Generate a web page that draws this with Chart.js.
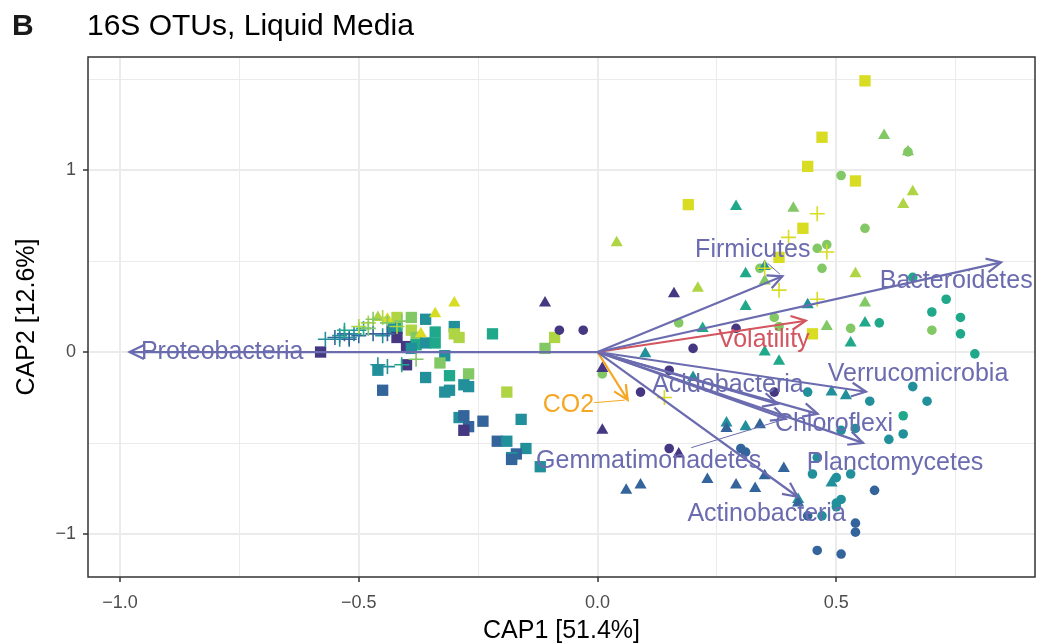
<!DOCTYPE html>
<html>
<head>
<meta charset="utf-8">
<script src="https://cdn.jsdelivr.net/npm/chart.js@4.4.0/dist/chart.umd.min.js"></script>
<style>
  html, body { margin: 0; padding: 0; background: #fff; }
  #wrap { width: 1045px; height: 644px; }
</style>
</head>
<body>
<div id="wrap"><canvas id="myChart" width="1045" height="644"></canvas></div>
<script>
// sample scores (CAP1, CAP2), one set of arrays per marker shape; group = colour level 1..7
const circleX = [0.51, 0.65, 0.56, 0.46, 0.48, 0.47, 0.34, 0.17, 0.37, 0.38, 0.70, 0.53, 0.01,
  0.66, 0.73, 0.70, 0.76, 0.76, 0.79, 0.59, 0.64,
  0.66, 0.69, 0.57, 0.44, 0.64, 0.61, 0.54, 0.51, 0.46, 0.45, 0.50, 0.53, 0.51, 0.50, 0.50, 0.47,
  0.58, 0.44, 0.54, 0.54, 0.46, 0.51, 0.30, 0.31,
  0.29, 0.20, 0.15, 0.09, 0.37, 0.15, -0.08, -0.03];
const circleY = [0.97, 1.10, 0.68, 0.57, 0.59, 0.46, 0.46, 0.16, 0.19, 0.14, 0.12, 0.13, -0.12,
  0.41, 0.29, 0.22, 0.19, 0.10, -0.01, 0.16, -0.35,
  -0.19, -0.27, -0.27, -0.22, -0.45, -0.48, -0.42, -0.43, -0.58, -0.67, -0.69, -0.67, -0.81, -0.83, -0.85, -0.90,
  -0.76, -0.90, -0.94, -0.99, -1.09, -1.11, -0.53, -0.55,
  0.13, 0.02, -0.10, -0.22, -0.22, -0.53, 0.12, 0.12];
const circleGroup = [5, 5, 5, 5, 5, 5, 5, 5, 5, 5, 5, 5, 5,
  4, 4, 4, 4, 4, 4, 4, 4,
  3, 3, 3, 3, 3, 3, 3, 3, 3, 3, 3, 3, 3, 3, 3, 3,
  2, 2, 2, 2, 2, 2, 2, 2,
  1, 1, 1, 1, 1, 1, 1, 1];

const triX = [0.60, 0.65, 0.66, 0.64, 0.29, 0.41, 0.04, 0.54, 0.56, 0.56, 0.48, 0.53, 0.44, 0.38, 0.35,
  0.31, 0.35, 0.35, 0.16, 0.21, 0.31, 0.22, 0.10, 0.20, 0.01, 0.27, 0.27, 0.31, 0.34, 0.49, 0.52,
  0.39, 0.49, 0.42, 0.42, 0.17, 0.23, 0.29, 0.33, 0.35, 0.06, 0.09, -0.11, -0.30, -0.34, -0.44, -0.37, 0.01, -0.46];
const triY = [1.19, 1.10, 0.88, 0.81, 0.80, 0.79, 0.60, 0.43, 0.27, 0.16, 0.14, 0.05, 0.26, -0.05, 0.00,
  0.43, 0.39, 0.47, 0.32, 0.35, 0.25, 0.13, -0.01, -0.14, -0.43, -0.39, -0.42, -0.41, -0.40, -0.22, -0.24,
  -0.64, -0.72, -0.81, -0.83, -0.56, -0.70, -0.73, -0.75, -0.68, -0.76, -0.73, 0.27, 0.27, 0.21, 0.18, 0.10, -0.09, 0.19];
const triGroup = [5, 5, 6, 6, 4, 5, 6, 6, 5, 4, 5, 4, 3, 4, 4,
  4, 5, 3, 1, 6, 4, 4, 3, 3, 1, 3, 2, 3, 2, 3, 3,
  2, 3, 3, 2, 1, 2, 2, 2, 2, 2, 2, 1, 7, 7, 7, 7, 1, 6];

const squareX = [0.56, 0.47, 0.44, 0.54, 0.19, 0.43, 0.38, 0.45,
  -0.58, -0.42, -0.39, -0.36, -0.42, -0.43, -0.39, -0.34, -0.30, -0.30, -0.29, -0.42, -0.38, -0.40, -0.38,
  -0.39, -0.36, -0.34, -0.32, -0.33, -0.36, -0.46, -0.40, -0.31, -0.27, -0.28, -0.31, -0.27, -0.32, -0.45,
  -0.29, -0.28, -0.27, -0.28, -0.24,
  -0.22, -0.09, -0.11, -0.19, -0.16, -0.21, -0.19, -0.15, -0.17, -0.18, -0.18, -0.12];
const squareY = [1.49, 1.18, 1.02, 0.94, 0.81, 0.68, 0.52, 0.10,
  0.00, 0.19, 0.19, 0.18, 0.13, 0.13, 0.12, 0.11, 0.14, 0.10, 0.08, 0.08, 0.08, 0.03, 0.04,
  0.02, 0.05, 0.05, -0.02, -0.06, -0.14, -0.10, -0.07, -0.13, -0.12, -0.18, -0.21, -0.19, -0.22, -0.21,
  -0.36, -0.35, -0.41, -0.43, -0.38,
  0.10, 0.08, 0.02, -0.22, -0.37, -0.49, -0.49, -0.53, -0.56, -0.58, -0.59, -0.63];
const squareGroup = [7, 7, 7, 7, 7, 7, 7, 7,
  1, 6, 5, 3, 4, 3, 6, 4, 3, 6, 6, 1, 5, 1, 4,
  3, 3, 4, 3, 5, 3, 3, 1, 4, 5, 3, 3, 3, 3, 2,
  3, 2, 2, 1, 2,
  4, 6, 5, 6, 3, 2, 3, 3, 2, 3, 2, 3];

const crossX = [0.46, 0.40, 0.48, 0.38, 0.46, 0.35, 0.14,
  -0.57, -0.55, -0.54, -0.53, -0.52, -0.51, -0.50, -0.50, -0.53, -0.49, -0.48, -0.47, -0.45, -0.44,
  -0.50, -0.47, -0.45, -0.44, -0.48, -0.42, -0.41, -0.46, -0.44, -0.41, -0.38, -0.54, -0.52];
const crossY = [0.76, 0.63, 0.55, 0.34, 0.29, 0.46, -0.25,
  0.07, 0.08, 0.09, 0.10, 0.08, 0.10, 0.09, 0.12, 0.12, 0.13, 0.16, 0.18, 0.19, 0.16,
  0.14, 0.10, 0.09, 0.10, 0.13, 0.14, 0.17, -0.07, -0.08, -0.07, -0.04, 0.07, 0.07];
const crossGroup = [7, 7, 7, 7, 7, 7, 7,
  3, 2, 3, 2, 3, 3, 2, 3, 4, 4, 6, 5, 6, 5,
  6, 2, 3, 2, 5, 6, 5, 3, 3, 4, 5, 3, 2];

// biplot vectors (arrow tips) and where their labels sit
const vectorNames = ['Proteobacteria', 'Firmicutes', 'Bacteroidetes', 'Volatility', 'Verrucomicrobia',
  'Acidobacteria', 'Chloroflexi', 'Planctomycetes', 'Actinobacteria', 'Gemmatimonadetes', 'CO2'];
const vectorX = [-0.98, 0.387, 0.845, 0.436, 0.562, 0.377, 0.461, 0.556, 0.419, 0.394, 0.063];
const vectorY = [0.0, 0.416, 0.493, 0.172, -0.218, -0.285, -0.34, -0.499, -0.795, -0.367, -0.263];
const labelX = [-0.786, 0.325, 0.751, 0.348, 0.671, 0.273, 0.495, 0.623, 0.354, 0.107, -0.061];
const labelY = [0.0, 0.559, 0.389, 0.066, -0.121, -0.181, -0.395, -0.608, -0.893, -0.597, -0.29];

// axes
const xTicks = [-1, -0.75, -0.5, -0.25, 0, 0.25, 0.5, 0.75];
const yTicks = [-1, -0.5, 0, 0.5, 1, 1.5];

const groupColors = ['#453781', '#33649b', '#21909b', '#1fa98a', '#82c865', '#afd444', '#d8dc22'];
const FONT = '"Liberation Sans", Arial, Helvetica, sans-serif';

function vectorColor(name) {
  if (name === 'Volatility') return '#d2555f';
  if (name === 'CO2') return '#f5a623';
  return '#6b6baf';
}
function pts(xs, ys) { return xs.map((v, i) => ({x: v, y: ys[i]})); }
function cols(gs) { return gs.map(g => groupColors[g - 1]); }
function isMajor(v, step) { return Math.abs(v / step - Math.round(v / step)) < 1e-9; }
function fmt(v, digits) { return v.toFixed(digits).replace('-', '\u2212'); }

let ctx = document.getElementById('myChart').getContext('2d');

const datasets = [];
vectorNames.forEach((name, i) => {
  datasets.push({
    label: name,
    data: [{x: 0, y: 0}, {x: vectorX[i], y: vectorY[i]}],
    showLine: true,
    borderColor: vectorColor(name),
    borderWidth: 2.2,
    pointRadius: 0,
    tension: 0
  });
});
datasets.push({
  label: 'cross', data: pts(crossX, crossY), pointStyle: 'cross', pointRadius: 7.5,
  pointBorderWidth: 1.6, pointBorderColor: cols(crossGroup), pointBackgroundColor: cols(crossGroup)
});
datasets.push({
  label: 'triangle', data: pts(triX, triY), pointStyle: 'triangle', pointRadius: 7,
  pointBorderWidth: 0, pointBackgroundColor: cols(triGroup)
});
datasets.push({
  label: 'circle', data: pts(circleX, circleY), pointStyle: 'circle', pointRadius: 4.8,
  pointBorderWidth: 0, pointBackgroundColor: cols(circleGroup)
});
datasets.push({
  label: 'square', data: pts(squareX, squareY), pointStyle: 'rect', pointRadius: 8,
  pointBorderWidth: 0, pointBackgroundColor: cols(squareGroup)
});

const overlay = {
  id: 'overlay',
  afterDatasetsDraw(chart) {
    const c = chart.ctx;
    const area = chart.chartArea;
    const x = chart.scales.x, y = chart.scales.y;
    const ox = x.getPixelForValue(0), oy = y.getPixelForValue(0);
    c.save();
    c.beginPath();
    c.rect(area.left, area.top, area.width, area.height);
    c.clip();
    // arrow heads
    const headLen = 16, headAng = Math.PI / 7;
    vectorNames.forEach((name, i) => {
      const tx = x.getPixelForValue(vectorX[i]), ty = y.getPixelForValue(vectorY[i]);
      const a = Math.atan2(ty - oy, tx - ox);
      c.strokeStyle = vectorColor(name);
      c.lineWidth = 2.2;
      c.lineJoin = 'miter';
      c.beginPath();
      c.moveTo(tx - headLen * Math.cos(a - headAng), ty - headLen * Math.sin(a - headAng));
      c.lineTo(tx, ty);
      c.lineTo(tx - headLen * Math.cos(a + headAng), ty - headLen * Math.sin(a + headAng));
      c.stroke();
    });
    // labels with repel-style connectors
    c.font = '25px ' + FONT;
    c.textAlign = 'center';
    c.textBaseline = 'middle';
    vectorNames.forEach((name, i) => {
      const lx = x.getPixelForValue(labelX[i]), ly = y.getPixelForValue(labelY[i]);
      const tx = x.getPixelForValue(vectorX[i]), ty = y.getPixelForValue(vectorY[i]);
      const hw = c.measureText(name).width / 2, hh = 13;
      const dx = tx - lx, dy = ty - ly;
      const t = Math.min(dx ? hw / Math.abs(dx) : Infinity, dy ? hh / Math.abs(dy) : Infinity);
      if (t < 1) {
        const sx = lx + t * dx, sy = ly + t * dy;
        const d = Math.hypot(tx - sx, ty - sy);
        if (d > 18) {
          c.strokeStyle = vectorColor(name);
          c.lineWidth = 1;
          c.beginPath();
          c.moveTo(sx, sy);
          c.lineTo(tx - (tx - sx) * 3 / d, ty - (ty - sy) * 3 / d);
          c.stroke();
        }
      }
      c.fillStyle = vectorColor(name);
      c.fillText(name, lx, ly);
    });
    c.restore();
    // panel border
    c.save();
    c.strokeStyle = '#333333';
    c.lineWidth = 1.5;
    c.strokeRect(area.left, area.top, area.width, area.height);
    c.restore();
  },
  afterDraw(chart) {
    const c = chart.ctx;
    c.save();
    c.fillStyle = '#1a1a1a';
    c.textBaseline = 'alphabetic';
    c.textAlign = 'left';
    c.font = 'bold 30px ' + FONT;
    c.fillText('B', 12, 35);
    c.fillStyle = '#000';
    c.font = '30px ' + FONT;
    c.fillText('16S OTUs, Liquid Media', 87, 35);
    c.restore();
  }
};

function gridOpts(step) {
  return {
    color: '#ebebeb',
    lineWidth: g => (g.tick && isMajor(g.tick.value, step) ? 2 : 1),
    tickColor: g => (g.tick && isMajor(g.tick.value, step) ? '#333333' : 'rgba(0,0,0,0)'),
    tickLength: 5,
    tickWidth: 1.5
  };
}

let myChart = new Chart(ctx, {
  type: 'scatter',
  data: {datasets: datasets},
  options: {
    responsive: false,
    animation: false,
    devicePixelRatio: 1,
    events: [],
    layout: {padding: {top: 57, right: 10, left: 0, bottom: 0}},
    plugins: {legend: {display: false}, tooltip: {enabled: false}},
    scales: {
      x: {
        type: 'linear', min: -1.067, max: 0.916, bounds: 'data',
        afterBuildTicks: s => { s.ticks = xTicks.map(v => ({value: v})); },
        afterFit: s => { s.height = 67; },
        ticks: {
          autoSkip: false, maxRotation: 0, padding: 10,
          font: {family: FONT, size: 18}, color: '#4d4d4d',
          callback: v => (isMajor(v, 0.5) ? fmt(v, 1) : '')
        },
        grid: gridOpts(0.5),
        border: {display: false},
        title: {display: true, text: 'CAP1 [51.4%]', color: '#000',
          font: {family: FONT, size: 25}, padding: {top: 0, bottom: -2}}
      },
      y: {
        type: 'linear', min: -1.236, max: 1.621, bounds: 'data',
        afterBuildTicks: s => { s.ticks = yTicks.map(v => ({value: v})); },
        afterFit: s => { s.width = 88; },
        ticks: {
          autoSkip: false, padding: 7,
          font: {family: FONT, size: 18}, color: '#4d4d4d',
          callback: v => (isMajor(v, 1) ? fmt(v, 0) : '')
        },
        grid: gridOpts(1),
        border: {display: false},
        title: {display: true, text: 'CAP2 [12.6%]', color: '#000',
          font: {family: FONT, size: 25}, padding: {top: 12, bottom: 0}}
      }
    }
  },
  plugins: [overlay]
});
</script>
</body>
</html>
